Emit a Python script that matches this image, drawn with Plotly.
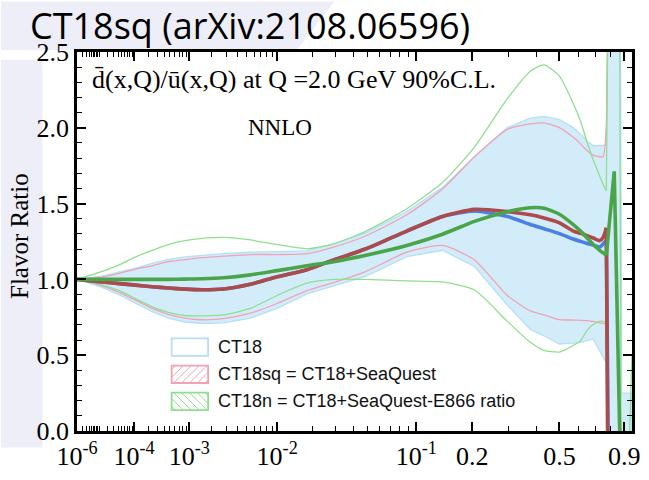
import plotly.graph_objects as go
import numpy as np

# ---------------- data ----------------
X = [1e-6, 1.3e-5, 4.3e-5, 1.1e-4, 2.4e-4, 4.7e-4, 8.6e-4, 1.5e-3, 2.8e-3, 5.5e-3,
     0.01, 0.018, 0.029, 0.049, 0.088, 0.14, 0.205, 0.295, 0.375, 0.43,
     0.50, 0.57, 0.61, 0.645, 0.685, 0.726, 0.748, 0.77]

# CT18 90% band
CT18_UP = [1.000, 1.021, 1.049, 1.075, 1.106, 1.132, 1.149, 1.160, 1.170, 1.179,
           1.183, 1.188, 1.234, 1.308, 1.447, 1.607, 1.809, 2.001, 2.064, 2.075,
           2.054, 2.001, 1.958, 1.915, 1.883, 1.883, 1.883, 1.894]
CT18_LO = [1.000, 0.947, 0.898, 0.841, 0.788, 0.745, 0.719, 0.709, 0.713, 0.745,
           0.809, 0.904, 0.958, 1.021, 1.150, 1.192, 1.085, 0.830, 0.670, 0.628,
           0.574, 0.579, 0.585, 0.596, 0.606, 0.532, 0.489, 0.447]
CT18_UP_TAIL_X = [0.78, 0.87, 0.88, 0.955]
CT18_UP_TAIL = [2.7, 2.7, 0.25, 0.25]
CT18_LO_TAIL_X = [0.78, 0.955]
CT18_LO_TAIL = [-0.2, -0.2]

# CT18sq band edges
CT18SQ_UP = [1.000, 1.017, 1.040, 1.068, 1.090, 1.117, 1.130, 1.143, 1.153, 1.164,
             1.164, 1.170, 1.213, 1.288, 1.426, 1.596, 1.809, 1.990, 2.026, 2.032,
             2.001, 1.937, 1.894, 1.852, 1.820, 1.809, 1.809, 2.022]
CT18SQ_LO = [1.000, 0.958, 0.915, 0.862, 0.809, 0.770, 0.745, 0.734, 0.741, 0.777,
             0.841, 0.926, 0.979, 1.053, 1.180, 1.224, 1.128, 0.894, 0.792, 0.766,
             0.734, 0.732, 0.730, 0.728, 0.723, 0.713, 0.708, 0.702]
CT18SQ_UP_TAIL_X = [0.78]
CT18SQ_UP_TAIL = [2.7]
CT18SQ_LO_TAIL_X = [0.78]
CT18SQ_LO_TAIL = [-0.2]

# CT18n band edges
CT18N_UP = [1.000, 1.053, 1.096, 1.149, 1.192, 1.230, 1.256, 1.271, 1.277, 1.260,
            1.230, 1.202, 1.234, 1.319, 1.466, 1.639, 1.873, 2.192, 2.373, 2.415,
            2.341, 2.160, 2.043, 1.915, 1.788, 1.681, 1.628, 1.585]
CT18N_LO = [1.000, 0.962, 0.926, 0.872, 0.819, 0.783, 0.762, 0.760, 0.766, 0.809,
            0.894, 0.975, 1.000, 1.000, 0.990, 0.983, 0.930, 0.723, 0.585, 0.532,
            0.521, 0.564, 0.596, 0.660, 0.702, 0.723, 0.723, 0.713]
CT18N_UP_TAIL_X = [0.78, 0.865, 0.875]
CT18N_UP_TAIL = [2.7, 2.7, -0.2]
CT18N_LO_TAIL_X = [0.78, 0.935, 0.96]
CT18N_LO_TAIL = [-0.2, -0.2, 0.5]

# central values
CT18_C = [1.000, 0.983, 0.972, 0.962, 0.952, 0.943, 0.936, 0.932, 0.937, 0.968,
          1.017, 1.064, 1.128, 1.202, 1.319, 1.415, 1.451, 1.415, 1.362, 1.334,
          1.302, 1.266, 1.251, 1.238, 1.226, 1.213, 1.234, 1.256]
CT18SQ_C = [1.000, 0.983, 0.972, 0.962, 0.952, 0.943, 0.936, 0.932, 0.937, 0.968,
            1.017, 1.064, 1.128, 1.202, 1.319, 1.415, 1.462, 1.447, 1.426, 1.405,
            1.373, 1.319, 1.304, 1.290, 1.273, 1.256, 1.277, 1.341]
CT18N_C = [1.000, 1.000, 1.000, 1.000, 1.000, 1.000, 1.002, 1.004, 1.011, 1.030,
           1.058, 1.090, 1.117, 1.160, 1.224, 1.298, 1.383, 1.447, 1.473, 1.470,
           1.430, 1.362, 1.319, 1.277, 1.230, 1.192, 1.175, 1.160]
CT18_C_TAIL_X = [0.785]
CT18_C_TAIL = [-0.3]
CT18SQ_C_TAIL_X = [0.78]
CT18SQ_C_TAIL = [-0.3]
CT18N_C_TAIL_X = [0.825, 0.872]
CT18N_C_TAIL = [1.713, -0.3]

X_MAJOR = [1e-6, 1e-4, 1e-3, 1e-2, 1e-1, 0.2, 0.5, 0.9]
X_MAJOR_TEXT = ["10<sup>-6</sup>", "10<sup>-4</sup>", "10<sup>-3</sup>",
                "10<sup>-2</sup>", "10<sup>-1</sup>", "0.2", "0.5", "0.9"]
X_MINOR = [m * 10.0 ** k for k in range(-6, -1) for m in range(2, 10)] + \
          [1e-5, 0.3, 0.4, 0.6, 0.7, 0.8]
Y_TICKS = [0.0, 0.5, 1.0, 1.5, 2.0, 2.5]

LEGEND_LABELS = ["CT18", "CT18sq = CT18+SeaQuest", "CT18n = CT18+SeaQuest-E866 ratio"]

# ---------------- geometry / style ----------------
W, H = 649, 480
ML, MR, MT, MB = 77, 9, 52, 37
PW = W - ML - MR
PH = H - MT - MB


def px(x):
    return (x - ML) / PW


def py(y):
    return (H - MB - y) / PH


def T(v):
    return list(np.power(np.asarray(v, dtype=float), 0.2))


BAND_FILL = "#d3ecfa"
BAND_LINE = "#b6dff6"
PINK = "#f0a3b5"
LGREEN = "#8fdf8f"
BLUE = "#4a80e4"
RED = "#ad4a4a"
GREEN = "#4aa54a"
SERIF = "Liberation Serif"

fig = go.Figure()

# band polygon
bx = list(X) + CT18_UP_TAIL_X + list(reversed(list(X) + CT18_LO_TAIL_X))
by = list(CT18_UP) + CT18_UP_TAIL + list(reversed(list(CT18_LO) + CT18_LO_TAIL))
fig.add_trace(go.Scatter(x=T(bx), y=by, mode="lines", fill="toself",
                         fillcolor=BAND_FILL, line=dict(color=BAND_LINE, width=1.3),
                         hoverinfo="skip", showlegend=False))


def add_curve(ys, tx, ty, color, width):
    fig.add_trace(go.Scatter(x=T(X), y=ys, mode="lines",
                             line=dict(color=color, width=width, shape="spline", smoothing=0.6),
                             hoverinfo="skip", showlegend=False))
    fig.add_trace(go.Scatter(x=T([X[-1]] + tx), y=[ys[-1]] + ty, mode="lines",
                             line=dict(color=color, width=width),
                             hoverinfo="skip", showlegend=False))


add_curve(CT18SQ_UP, CT18SQ_UP_TAIL_X, CT18SQ_UP_TAIL, PINK, 1.3)
add_curve(CT18SQ_LO, CT18SQ_LO_TAIL_X, CT18SQ_LO_TAIL, PINK, 1.3)
add_curve(CT18N_UP, CT18N_UP_TAIL_X, CT18N_UP_TAIL, LGREEN, 1.3)
add_curve(CT18N_LO, CT18N_LO_TAIL_X, CT18N_LO_TAIL, LGREEN, 1.3)
add_curve(CT18_C, CT18_C_TAIL_X, CT18_C_TAIL, BLUE, 3.6)
add_curve(CT18SQ_C, CT18SQ_C_TAIL_X, CT18SQ_C_TAIL, RED, 3.6)
add_curve(CT18N_C, CT18N_C_TAIL_X, CT18N_C_TAIL, GREEN, 3.6)

axis_common = dict(
    showline=True, linewidth=2.5, linecolor="black", mirror="allticks",
    ticks="inside", ticklen=9, tickwidth=1.5, tickcolor="black",
    showgrid=False, zeroline=False,
    tickfont=dict(family=SERIF, size=26, color="black"),
)

fig.update_xaxes(range=[T([1e-6])[0], 0.992], tickmode="array",
                 tickvals=T(X_MAJOR), ticktext=X_MAJOR_TEXT,
                 minor=dict(tickvals=T(X_MINOR), ticks="inside", ticklen=5,
                            tickwidth=1.2, tickcolor="black", showgrid=False),
                 **axis_common)
fig.update_yaxes(range=[0, 2.5], tickmode="array", tickvals=Y_TICKS,
                 ticktext=["%.1f" % v for v in Y_TICKS],
                 minor=dict(dtick=0.1, ticks="inside", ticklen=5,
                            tickwidth=1.2, tickcolor="black", showgrid=False),
                 **axis_common)

shapes = []
LAV = "#eeeef8"
# slide background decorations
shapes.append(dict(type="rect", xref="paper", yref="paper", layer="below",
                   x0=px(0), x1=px(42), y0=py(460), y1=py(60),
                   fillcolor=LAV, line=dict(width=0)))
shapes.append(dict(type="path", xref="paper", yref="paper", layer="below",
                   path="M %f,%f L %f,%f L %f,%f L %f,%f Z" % (
                       px(0), py(0), px(338), py(0), px(300), py(50), px(0), py(50)),
                   fillcolor=LAV, line=dict(width=0)))

annotations = []
annotations.append(dict(text="CT18sq (arXiv:2108.06596)", xref="paper", yref="paper",
                        x=px(27), y=py(25), xanchor="left", yanchor="middle",
                        showarrow=False, font=dict(family="Open Sans", size=36, color="black")))
annotations.append(dict(text="d\u0304(x,Q)/u\u0304(x,Q) at Q =2.0 GeV 90%C.L.",
                        xref="paper", yref="paper", x=px(90), y=py(80),
                        xanchor="left", yanchor="middle", showarrow=False,
                        font=dict(family=SERIF, size=26, color="black")))
annotations.append(dict(text="NNLO", xref="paper", yref="paper", x=px(283), y=py(130),
                        xanchor="center", yanchor="middle", showarrow=False,
                        font=dict(family=SERIF, size=23, color="black")))
annotations.append(dict(text="Flavor Ratio", xref="paper", yref="paper", x=px(18), y=py(242),
                        xanchor="center", yanchor="middle", textangle=-90, showarrow=False,
                        font=dict(family=SERIF, size=25, color="black")))

# manual legend
BX0, BX1, BH = 173, 210, 18
rows = [356.5, 384.5, 412.5]
box_colors = [BAND_LINE, PINK, LGREEN]
hatch = [None, "/", "\\"]
for label, yc, col, hdir in zip(LEGEND_LABELS, rows, box_colors, hatch):
    top, bot = yc - BH / 2, yc + BH / 2
    if hdir is not None:
        w = BX1 - BX0
        for c in np.arange(-BH + 4, w, 8.0):
            s_lo, s_hi = max(0.0, -c), min(BH, w - c)
            if s_hi <= s_lo:
                continue
            if hdir == "/":
                xa, ya = BX0 + c + s_lo, bot - s_lo
                xb, yb = BX0 + c + s_hi, bot - s_hi
            else:
                xa, ya = BX0 + c + s_lo, top + s_lo
                xb, yb = BX0 + c + s_hi, top + s_hi
            shapes.append(dict(type="line", xref="paper", yref="paper", layer="above",
                               x0=px(xa), y0=py(ya), x1=px(xb), y1=py(yb),
                               line=dict(color=col, width=1)))
    shapes.append(dict(type="rect", xref="paper", yref="paper", layer="above",
                       x0=px(BX0), x1=px(BX1), y0=py(bot), y1=py(top),
                       line=dict(color=col, width=1.8)))
    annotations.append(dict(text=label, xref="paper", yref="paper", x=px(218), y=py(yc),
                            xanchor="left", yanchor="middle", showarrow=False,
                            font=dict(family="Liberation Sans", size=18, color="#111111")))

fig.update_layout(
    width=W, height=H, margin=dict(l=ML, r=MR, t=MT, b=MB, pad=0),
    paper_bgcolor="white", plot_bgcolor="white",
    shapes=shapes, annotations=annotations, showlegend=False,
)

fig.write_html("out.html")
